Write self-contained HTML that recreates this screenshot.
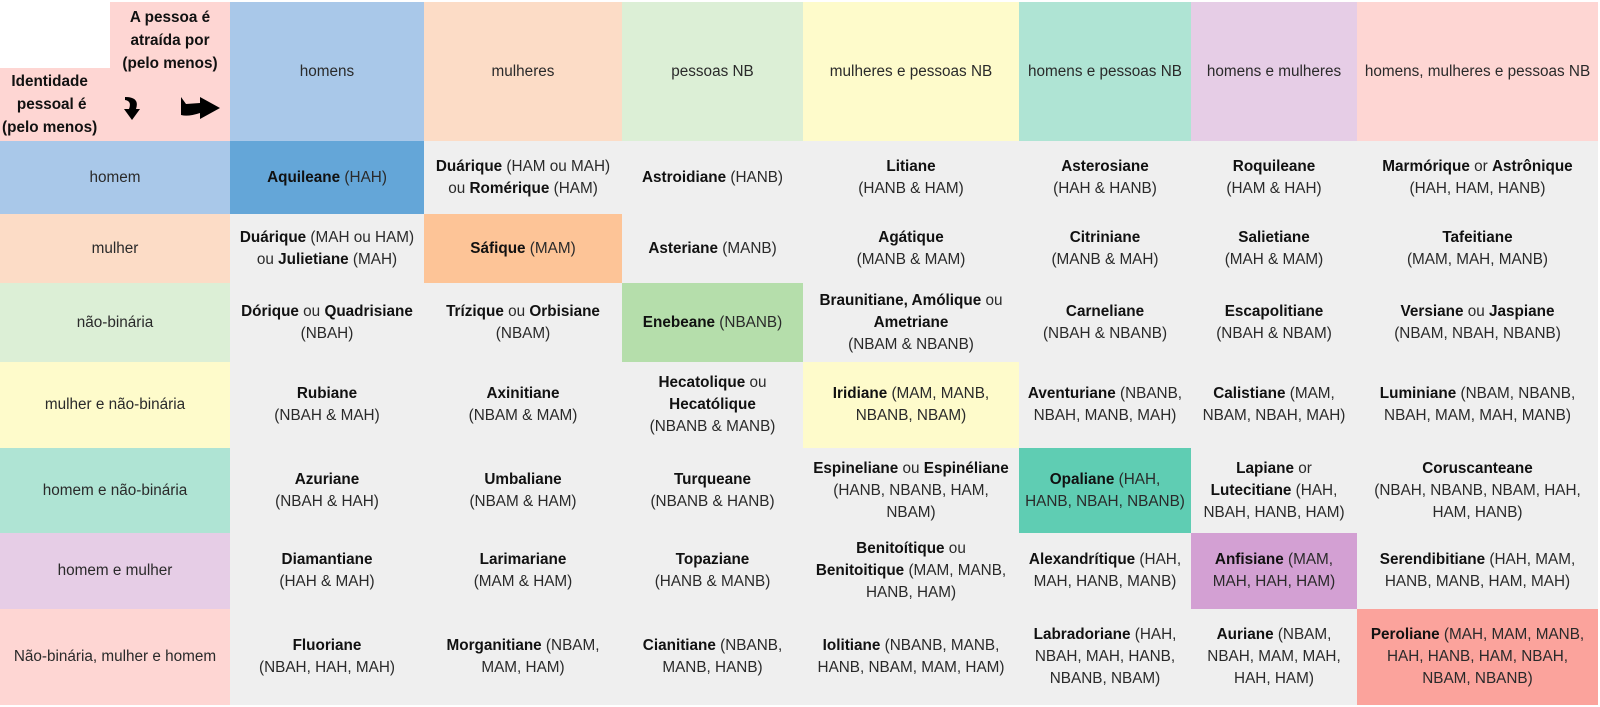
<!DOCTYPE html>
<html><head><meta charset="utf-8"><style>
*{margin:0;padding:0;box-sizing:border-box}
body{width:1600px;height:707px;background:#fff;position:relative;overflow:hidden;font-family:"Liberation Sans",sans-serif;font-size:15.3px;line-height:22px;color:#2a2a2a}
.c{position:absolute;display:flex;align-items:center;justify-content:center;text-align:center;padding:0 2px;background:#efefef}
b{color:#111}
</style></head><body>
<div class="c" style="left:110px;top:2px;width:120px;height:139px;background:#fed6d3;align-items:flex-start;padding-top:4px"><b style="line-height:23px">A pessoa é<br>atraída por<br>(pelo menos)</b></div>
<div class="c" style="left:0;top:68px;width:112px;height:73px;background:#fed6d3;justify-content:flex-start;padding-left:2px"><b style="line-height:23px">Identidade<br>&nbsp;pessoal é<br>(pelo menos)</b></div>
<svg style="position:absolute;left:118px;top:95px" width="110" height="30"><path d="M7 2 Q22 2 18 14 L22 14 L14 25 L6 14 L11 14 Q14 6 7 5 Z" fill="#000"/><path d="M63 2 L63 20 Q70 22 82 18 L82 24 L102 13 L82 2 L82 8 L68 9 Z" fill="#000"/></svg>
<div id="t"></div>
<script>
const X=[230,424,622,803,1019,1191,1357,1598],Y=[2,141,214,283,362,448,533,609,705];
const hc=["#a9c8e9","#fcdcc6","#dcefd6","#fefbcb","#afe4d4","#e6cde6","#fed6d3"];
const dc=["#64a6d8","#fdc497","#b5deab","#fefbcb","#5fcdb3","#d3a0d3","#fba39c"];
const H=["homens","mulheres","pessoas NB","mulheres e pessoas NB","homens e pessoas NB","homens e mulheres","homens, mulheres e pessoas NB"];
const R=["homem","mulher","não-binária","mulher e não-binária","homem e não-binária","homem e mulher","Não-binária, mulher e homem"];
const D=[
["<b>Aquileane</b> (HAH)","<b>Duárique</b> (HAM ou MAH)<br>ou <b>Romérique</b> (HAM)","<b>Astroidiane</b> (HANB)","<b>Litiane</b><br>(HANB &amp; HAM)","<b>Asterosiane</b><br>(HAH &amp; HANB)","<b>Roquileane</b><br>(HAM &amp; HAH)","<b>Marmórique</b> or <b>Astrônique</b><br>(HAH, HAM, HANB)"],
["<b>Duárique</b> (MAH ou HAM)<br>ou <b>Julietiane</b> (MAH)","<b>Sáfique</b> (MAM)","<b>Asteriane</b> (MANB)","<b>Agátique</b><br>(MANB &amp; MAM)","<b>Citriniane</b><br>(MANB &amp; MAH)","<b>Salietiane</b><br>(MAH &amp; MAM)","<b>Tafeitiane</b><br>(MAM, MAH, MANB)"],
["<b>Dórique</b> ou <b>Quadrisiane</b><br>(NBAH)","<b>Trízique</b> ou <b>Orbisiane</b><br>(NBAM)","<b>Enebeane</b> (NBANB)","<b>Braunitiane, Amólique</b> ou<br><b>Ametriane</b><br>(NBAM &amp; NBANB)","<b>Carneliane</b><br>(NBAH &amp; NBANB)","<b>Escapolitiane</b><br>(NBAH &amp; NBAM)","<b>Versiane</b> ou <b>Jaspiane</b><br>(NBAM, NBAH, NBANB)"],
["<b>Rubiane</b><br>(NBAH &amp; MAH)","<b>Axinitiane</b><br>(NBAM &amp; MAM)","<b>Hecatolique</b> ou<br><b>Hecatólique</b><br>(NBANB &amp; MANB)","<b>Iridiane</b> (MAM, MANB,<br>NBANB, NBAM)","<b>Aventuriane</b> (NBANB,<br>NBAH, MANB, MAH)","<b>Calistiane</b> (MAM,<br>NBAM, NBAH, MAH)","<b>Luminiane</b> (NBAM, NBANB,<br>NBAH, MAM, MAH, MANB)"],
["<b>Azuriane</b><br>(NBAH &amp; HAH)","<b>Umbaliane</b><br>(NBAM &amp; HAM)","<b>Turqueane</b><br>(NBANB &amp; HANB)","<b>Espineliane</b> ou <b>Espinéliane</b><br>(HANB, NBANB, HAM,<br>NBAM)","<b>Opaliane</b> (HAH,<br>HANB, NBAH, NBANB)","<b>Lapiane</b> or<br><b>Lutecitiane</b> (HAH,<br>NBAH, HANB, HAM)","<b>Coruscanteane</b><br>(NBAH, NBANB, NBAM, HAH,<br>HAM, HANB)"],
["<b>Diamantiane</b><br>(HAH &amp; MAH)","<b>Larimariane</b><br>(MAM &amp; HAM)","<b>Topaziane</b><br>(HANB &amp; MANB)","<b>Benitoítique</b> ou<br><b>Benitoitique</b> (MAM, MANB,<br>HANB, HAM)","<b>Alexandrítique</b> (HAH,<br>MAH, HANB, MANB)","<b>Anfisiane</b> (MAM,<br>MAH, HAH, HAM)","<b>Serendibitiane</b> (HAH, MAM,<br>HANB, MANB, HAM, MAH)"],
["<b>Fluoriane</b><br>(NBAH, HAH, MAH)","<b>Morganitiane</b> (NBAM,<br>MAM, HAM)","<b>Cianitiane</b> (NBANB,<br>MANB, HANB)","<b>Iolitiane</b> (NBANB, MANB,<br>HANB, NBAM, MAM, HAM)","<b>Labradoriane</b> (HAH,<br>NBAH, MAH, HANB,<br>NBANB, NBAM)","<b>Auriane</b> (NBAM,<br>NBAH, MAM, MAH,<br>HAH, HAM)","<b>Peroliane</b> (MAH, MAM, MANB,<br>HAH, HANB, HAM, NBAH,<br>NBAM, NBANB)"]];
let h="";
const cell=(l,t,w,ht,bg,tx)=>`<div class="c" style="left:${l}px;top:${t}px;width:${w}px;height:${ht}px;background:${bg}"><div style="white-space:nowrap">${tx}</div></div>`;
for(let j=0;j<7;j++){h+=cell(X[j],Y[0],X[j+1]-X[j],Y[1]-Y[0],hc[j],H[j]);}
for(let i=0;i<7;i++){h+=cell(0,Y[i+1],230,Y[i+2]-Y[i+1],hc[i],R[i]);
 for(let j=0;j<7;j++)h+=cell(X[j],Y[i+1],X[j+1]-X[j],Y[i+2]-Y[i+1],i==j?dc[i]:"#efefef",D[i][j]);}
document.getElementById("t").innerHTML=h;
</script>
</body></html>
